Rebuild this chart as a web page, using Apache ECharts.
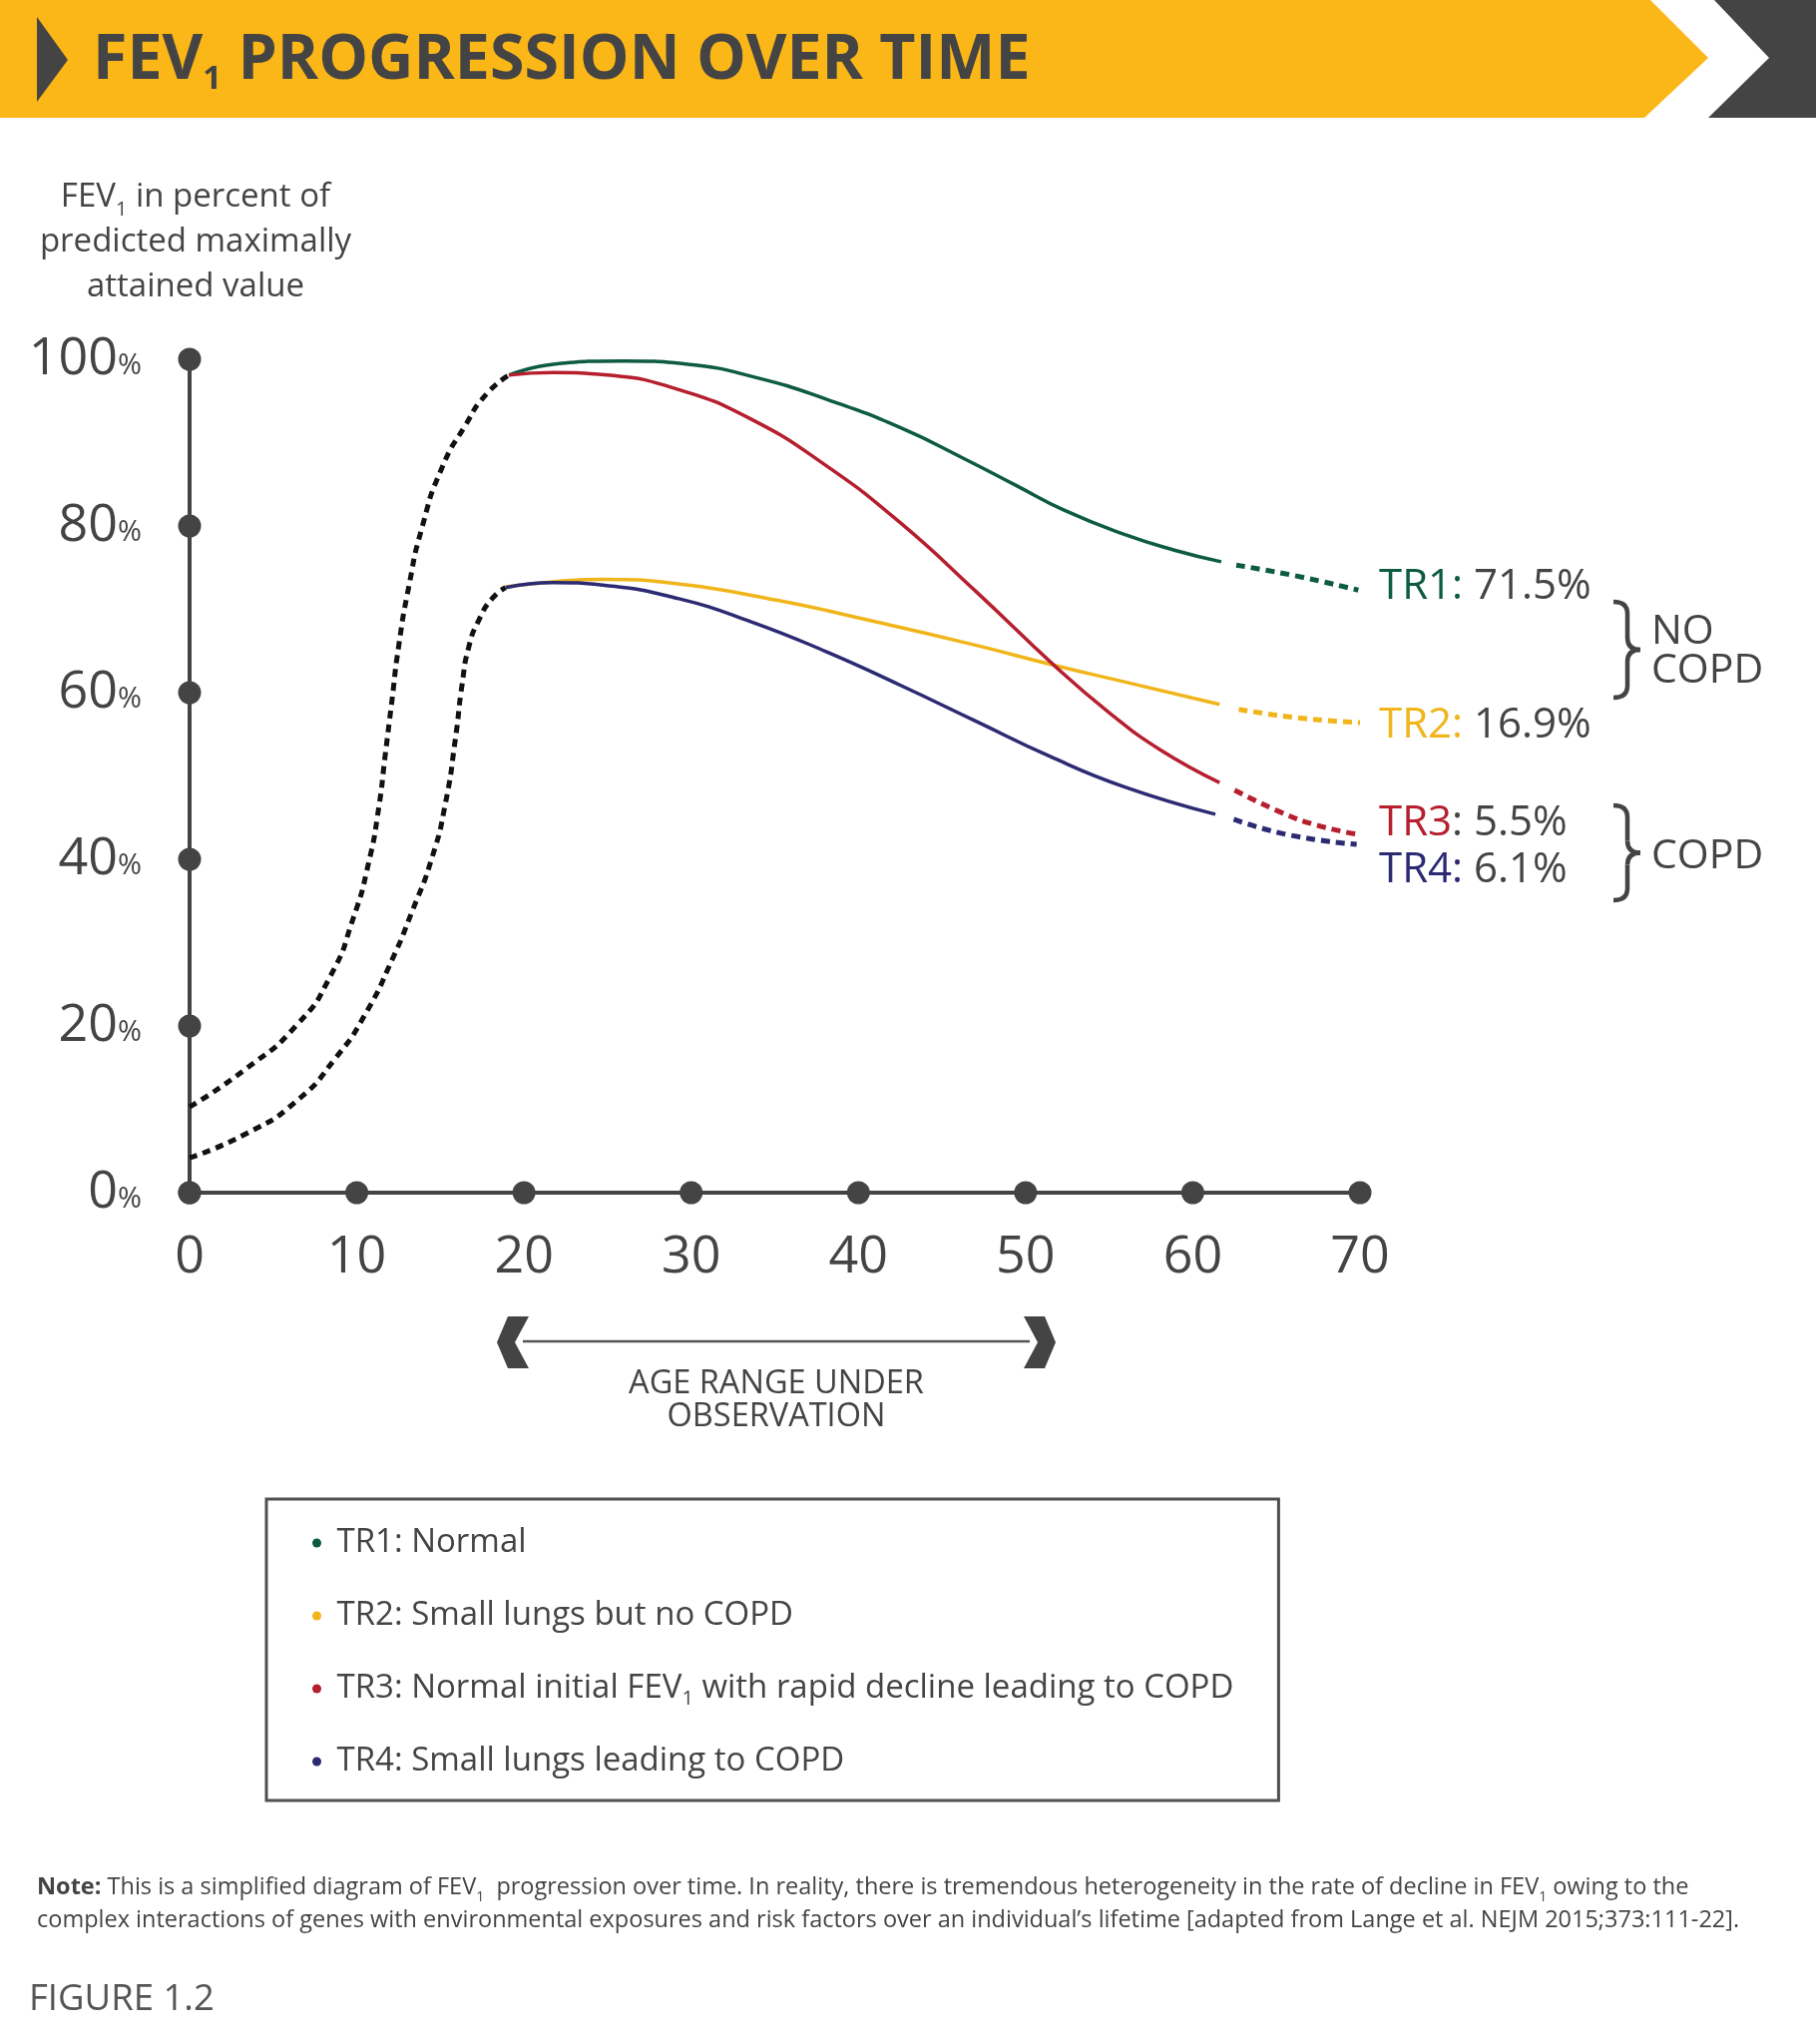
<!DOCTYPE html>
<html><head><meta charset="utf-8">
<script src="https://cdn.jsdelivr.net/npm/echarts@6/dist/echarts.min.js"></script>
<style>html,body{margin:0;padding:0;background:#fff}#c{width:1820px;height:2048px}</style>
</head><body><div id="c"></div>
<script>
// ---- data ----
const xTicks = [0, 10, 20, 30, 40, 50, 60, 70];
const yTicks = [0, 20, 40, 60, 80, 100];
const earlyHigh = [[0,10.3],[3.4,14.9],[6.4,20.1],[8.4,25.9],[9.8,33],[10.7,39.5],[11.3,46],[11.7,52.5],[12.1,59],[12.5,65.5],[13.1,72.6],[13.9,79.8],[15.1,87],[16.5,92.1],[17.7,95.7],[19.1,98.1]];
const earlyLow = [[0,4.2],[3.4,7.1],[6.4,11],[8.75,16.2],[10.5,21.4],[12.1,27.9],[13.3,33.7],[14.5,40.2],[15.3,46.7],[15.9,54.5],[16.3,61],[16.7,65.5],[17.3,68.7],[18.1,71.3],[18.9,72.6]];
const tr1 = [[19.1,98.1],[21.75,99.4],[25.9,99.8],[29.8,99.4],[33.9,97.8],[38.1,95.2],[42.5,91.8],[46.4,88],[49.4,84.9],[52.3,81.9],[55.9,79.0],[58.9,77.1],[61.7,75.7]];
const tr1Ext = [[62.6,75.3],[66.2,74.0],[69.9,72.3]];
const tr2 = [[18.9,72.7],[21.75,73.3],[24.7,73.6],[29.2,73.05],[35.1,71.1],[41.05,68.5],[47,65.7],[51.7,63.3],[55.9,61.3],[61.6,58.6]];
const tr2Ext = [[62.75,58],[66.2,57],[70,56.4]];
const tr3 = [[19.1,98.1],[21.75,98.4],[25,98.1],[29.2,96.4],[33.6,92.8],[38.1,87.2],[42.5,80.4],[47,72.2],[51.8,63.1],[55,57.6],[58,53.2],[61.6,49.2]];
const tr3Ext = [[62.5,48.3],[65.2,45.7],[67.4,44.1],[69.85,43]];
const tr4 = [[18.9,72.6],[21.75,73.2],[24.7,72.9],[29.2,71.3],[33.6,68.5],[38.1,64.9],[42.5,60.9],[47,56.6],[51.4,52.4],[55.9,48.7],[61.35,45.4]];
const tr4Ext = [[62.45,44.8],[65.8,42.9],[69.8,41.8]];
const trNames = ['TR1', 'TR2', 'TR3', 'TR4'];
const trShares = ['71.5%', '16.9%', '5.5%', '6.1%'];
const trDescriptions = {
  TR1: 'TR1: Normal',
  TR2: 'TR2: Small lungs but no COPD',
  TR3: 'TR3: Normal initial FEV{sub|1} with rapid decline leading to COPD',
  TR4: 'TR4: Small lungs leading to COPD'
};

// ---- styling ----
const FONT = '"Open Sans", "Noto Sans", sans-serif';
const GRAY = '#444444';
const C = { TR1: '#0d5b43', TR2: '#f1b51c', TR3: '#b51f2e', TR4: '#2b2a72' };
const YELLOW = '#fbb617';

const chart = echarts.init(document.getElementById('c'), null, { renderer: 'canvas' });

function solid(name, data) {
  return { name, type: 'line', data, smooth: 0.5, symbol: 'none', clip: false, z: 3,
    itemStyle: { color: C[name] }, lineStyle: { color: C[name], width: 3.5 } };
}
function ext(name, data) {
  return { name: name + '_ext', type: 'line', data, smooth: 0.5, symbol: 'none', clip: false, z: 3,
    lineStyle: { color: C[name], width: 5, type: [9, 6] } };
}
function early(name, data) {
  return { name, type: 'line', data, smooth: 0.6, symbol: 'none', clip: false, z: 3,
    lineStyle: { color: '#111', width: 5, type: [8, 6] } };
}
function brace(top, bottom) {
  const xl = 1617, xc = 1631, xr = 1644, mid = (top + bottom) / 2, r = 12;
  const st = { stroke: GRAY, lineWidth: 4.5, fill: null };
  return [
    { type: 'bezierCurve', shape: { x1: xl, y1: top, cpx1: xc, cpy1: top, x2: xc, y2: top + r }, style: st },
    { type: 'line', shape: { x1: xc, y1: top + r, x2: xc, y2: mid - r }, style: st },
    { type: 'bezierCurve', shape: { x1: xc, y1: mid - r, cpx1: xc, cpy1: mid, x2: xr, y2: mid }, style: st },
    { type: 'bezierCurve', shape: { x1: xr, y1: mid, cpx1: xc, cpy1: mid, x2: xc, y2: mid + r }, style: st },
    { type: 'line', shape: { x1: xc, y1: mid + r, x2: xc, y2: bottom - r }, style: st },
    { type: 'bezierCurve', shape: { x1: xc, y1: bottom - r, cpx1: xc, cpy1: bottom, x2: xl, y2: bottom }, style: st }
  ];
}

const labelY = [588, 727, 825, 872];
const colonColor = [C.TR1, C.TR2, GRAY, C.TR4];
const endLabels = trNames.map((n, i) => ({
  type: 'text', left: 1382, top: labelY[i] - 30, z: 10,
  style: {
    text: '{n|' + n + '}{c|:} {v|' + trShares[i] + '}',
    font: '42px ' + FONT, lineHeight: 60,
    rich: {
      n: { fill: C[n], fontSize: 42, fontFamily: FONT, lineHeight: 60 },
      c: { fill: colonColor[i], fontSize: 42, fontFamily: FONT, lineHeight: 60 },
      v: { fill: GRAY, fontSize: 42, fontFamily: FONT, lineHeight: 60 }
    }
  }
}));

const option = {
  animation: false,
  backgroundColor: '#ffffff',
  grid: { left: 190, top: 360, width: 1173, height: 835, containLabel: false },
  xAxis: {
    type: 'value', min: 0, max: 70, interval: 10,
    axisLine: { show: true, lineStyle: { color: GRAY, width: 4 } },
    axisTick: { show: false }, splitLine: { show: false },
    axisLabel: { margin: 39, color: GRAY, fontSize: 52, fontFamily: FONT, lineHeight: 52 }
  },
  yAxis: {
    type: 'value', min: 0, max: 100, interval: 20,
    axisLine: { show: true, lineStyle: { color: GRAY, width: 4 } },
    axisTick: { show: false }, splitLine: { show: false },
    axisLabel: {
      margin: 48, color: GRAY, fontFamily: FONT,
      formatter: v => '{a|' + v + '}{p|%}',
      rich: {
        a: { fontSize: 52, lineHeight: 60, fontFamily: FONT, color: GRAY },
        p: { fontSize: 29, lineHeight: 40, verticalAlign: 'bottom', padding: [0, 0, 9, 0], fontFamily: FONT, color: GRAY }
      }
    }
  },
  legend: {
    data: trNames, orient: 'vertical', left: 267, top: 1502,
    icon: 'circle', itemWidth: 30, itemHeight: 9, itemGap: 33, selectedMode: false,
    borderColor: '#505050', borderWidth: 3, padding: [24, 45, 19, 46],
    formatter: n => trDescriptions[n],
    textStyle: {
      color: GRAY, fontSize: 33, fontFamily: FONT, lineHeight: 40,
      rich: { sub: { fontSize: 20, lineHeight: 27, verticalAlign: 'bottom', color: GRAY, fontFamily: FONT } }
    }
  },
  series: [
    early('early_high', earlyHigh),
    early('early_low', earlyLow),
    solid('TR1', tr1), ext('TR1', tr1Ext),
    solid('TR2', tr2), ext('TR2', tr2Ext),
    solid('TR3', tr3), ext('TR3', tr3Ext),
    solid('TR4', tr4), ext('TR4', tr4Ext),
    { name: 'xdots', type: 'scatter', data: xTicks.map(v => [v, 0]), symbolSize: 23, z: 5,
      itemStyle: { color: GRAY, opacity: 1 }, silent: true },
    { name: 'ydots', type: 'scatter', data: yTicks.map(v => [0, v]), symbolSize: 23, z: 5,
      itemStyle: { color: GRAY, opacity: 1 }, silent: true }
  ],
  graphic: [
    // header band
    { type: 'polygon', shape: { points: [[0,0],[1654,0],[1712,58],[1648,118],[0,118]] }, style: { fill: YELLOW } },
    { type: 'polygon', shape: { points: [[1718,0],[1820,0],[1820,118],[1712,118],[1773,58]] }, style: { fill: GRAY } },
    { type: 'polygon', shape: { points: [[37,17],[68,60],[37,102]] }, style: { fill: GRAY } },
    { type: 'text', left: 93, top: 26, style: {
        text: 'FEV{s|1} PROGRESSION OVER TIME', fill: GRAY,
        font: 'bold 62.7px ' + FONT, lineHeight: 70,
        rich: { s: { fontSize: 33, fontWeight: 'bold', lineHeight: 46, verticalAlign: 'bottom', fill: GRAY, fontFamily: FONT } }
      } },
    // y axis title
    { type: 'text', x: 196, y: 243, style: {
        text: 'FEV{s|1} in percent of\npredicted maximally\nattained value', fill: GRAY,
        font: '33px ' + FONT, lineHeight: 45, align: 'center', verticalAlign: 'middle',
        rich: { s: { fontSize: 20, lineHeight: 30, verticalAlign: 'bottom', fill: GRAY, fontFamily: FONT } }
      } },
    // age range under observation
    { type: 'line', shape: { x1: 524, y1: 1344, x2: 1032, y2: 1344 }, style: { stroke: '#555', lineWidth: 2.5 } },
    { type: 'polygon', shape: { points: [[509,1319],[530,1319],[516,1345],[530,1371],[509,1371],[498,1345]] }, style: { fill: GRAY } },
    { type: 'polygon', shape: { points: [[1026,1319],[1047,1319],[1058,1345],[1047,1371],[1026,1371],[1040,1345]] }, style: { fill: GRAY } },
    { type: 'text', x: 778, y: 1403, style: {
        text: 'AGE RANGE UNDER\nOBSERVATION', fill: GRAY, font: '32.5px ' + FONT,
        lineHeight: 33, align: 'center', verticalAlign: 'middle' } },
    // right-side labels
    ...endLabels,
    ...brace(603, 699),
    ...brace(807, 902),
    { type: 'text', left: 1655, top: 613, style: { text: 'NO\nCOPD', fill: GRAY, font: '41px ' + FONT, lineHeight: 38.5 } },
    { type: 'text', left: 1655, top: 838, style: { text: 'COPD', fill: GRAY, font: '41px ' + FONT, lineHeight: 40 } },
    // note
    { type: 'text', left: 37, top: 1875, style: {
        text: '{b|Note:} This is a simplified diagram of FEV{s|1}  progression over time. In reality, there is tremendous heterogeneity in the rate of decline in FEV{s|1} owing to the\ncomplex interactions of genes with environmental exposures and risk factors over an individual\u2019s lifetime [adapted from Lange et al. NEJM 2015;373:111-22].',
        fill: GRAY, font: '23.5px ' + FONT, lineHeight: 33,
        rich: {
          b: { fontWeight: 'bold', fontSize: 23.5, fontFamily: FONT, fill: GRAY, lineHeight: 33 },
          s: { fontSize: 14, fontFamily: FONT, fill: GRAY, lineHeight: 24, verticalAlign: 'bottom' }
        } } },
    { type: 'text', left: 29, top: 1982, style: { text: 'FIGURE 1.2', fill: '#555', font: '36.5px ' + FONT, lineHeight: 44 } }
  ]
};
chart.setOption(option);
</script>
</body></html>
